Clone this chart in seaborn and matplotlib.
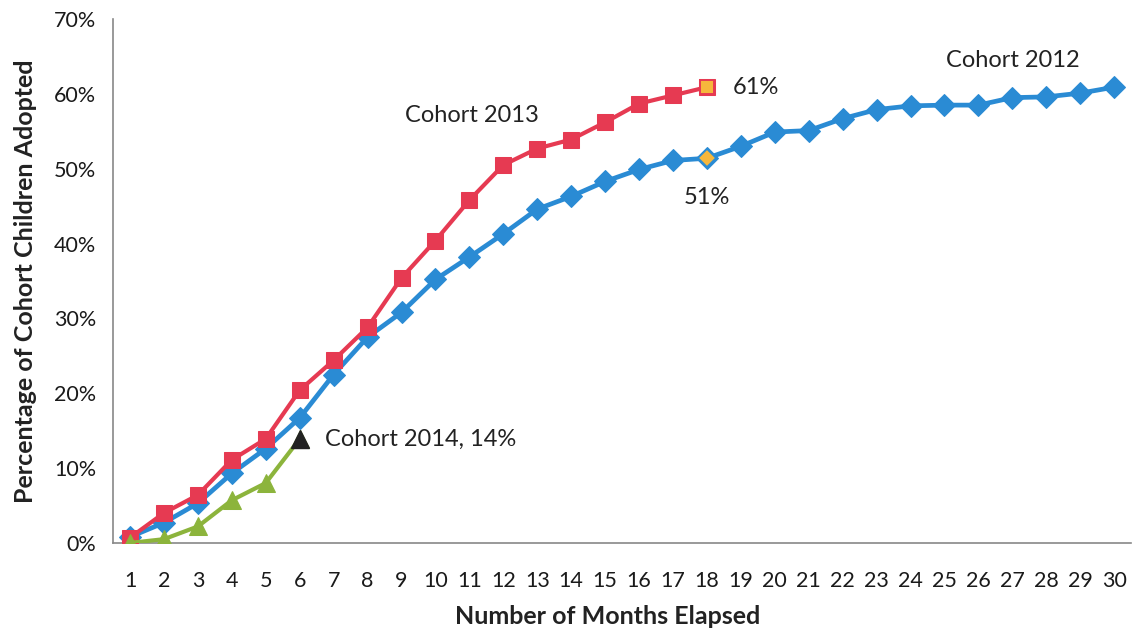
import numpy as np
import pandas as pd
import matplotlib.pyplot as plt
import seaborn as sns
from matplotlib.ticker import FixedLocator, FuncFormatter

# cumulative % adopted by month elapsed
months = list(range(1, 31))
cohort_2012 = [0.8, 2.7, 5.3, 9.3, 12.6, 16.7, 22.5, 27.5, 30.8, 35.2,
               38.2, 41.3, 44.6, 46.3, 48.3, 49.9, 51.1, 51.4, 53.0, 54.9,
               55.1, 56.7, 57.9, 58.4, 58.5, 58.5, 59.5, 59.6, 60.1, 60.9]
cohort_2013 = [0.7, 4.0, 6.4, 11.1, 13.9, 20.4, 24.4, 28.8, 35.4, 40.4,
               45.8, 50.5, 52.7, 53.9, 56.2, 58.7, 59.8, 60.9]
cohort_2014 = [0.0, 0.5, 2.2, 5.7, 8.0, 13.9]

blue = '#2a8bd4'
red = '#e63a52'
green = '#8cb43c'
yellow = '#f6b73c'

sns.set_style('white')
plt.rcParams['font.family'] = ['Lato', 'DejaVu Sans']

fig = plt.figure(figsize=(11.35, 6.35), dpi=100)
ax = fig.add_axes([0.0996, 0.145, 0.897, 0.825])

sns.lineplot(x=months, y=cohort_2012, ax=ax, color=blue, lw=3.4, marker='D',
             markersize=11, markeredgecolor=blue, zorder=3)
sns.lineplot(x=months[:len(cohort_2013)], y=cohort_2013, ax=ax, color=red, lw=3,
             marker='s', markersize=11, markeredgecolor=red, zorder=4)
sns.lineplot(x=months[:len(cohort_2014)], y=cohort_2014, ax=ax, color=green, lw=3,
             marker='^', markersize=13, markeredgecolor=green, zorder=5)

# highlighted end points
ax.plot(18, cohort_2012[17], marker='D', ms=9, mfc=yellow, mec=blue, mew=1.2, zorder=6)
ax.plot(18, cohort_2013[17], marker='s', ms=10, mfc=yellow, mec=red, mew=1.4, zorder=6)
ax.plot(6, cohort_2014[5], marker='^', ms=13, color='#222222', zorder=6)

tfont = dict(fontsize=17, color='#222222')
ax.text(9.1, 57.1, 'Cohort 2013', va='center', ha='left', **tfont)
ax.text(18.75, 60.8, '61%', va='center', ha='left', **tfont)
ax.text(18.0, 46.2, '51%', va='center', ha='center', **tfont)
ax.text(25.05, 64.5, 'Cohort 2012', va='center', ha='left', **tfont)
ax.text(6.75, 13.8, 'Cohort 2014, 14%', va='center', ha='left', **tfont)

ax.set_xlim(0.5, 30.5)
ax.set_ylim(0, 70)
ax.set_xticks(months)
ax.xaxis.set_minor_locator(FixedLocator(np.arange(0.5, 31, 1)))
ax.set_yticks(range(0, 71, 10))
ax.yaxis.set_major_formatter(FuncFormatter(lambda v, p: f'{v:.0f}%'))

ax.tick_params(axis='x', which='major', length=0, pad=20, labelsize=15.5, labelcolor='#1a1a1a')
ax.tick_params(axis='x', which='minor', length=6, width=1, color='#888888', direction='out')
ax.tick_params(axis='y', length=6, width=1, color='#888888', direction='out',
               labelsize=15.5, labelcolor='#1a1a1a', pad=6)

for s in ['top', 'right']:
    ax.spines[s].set_visible(False)
for s in ['left', 'bottom']:
    ax.spines[s].set_color('#888888')
    ax.spines[s].set_linewidth(1.2)

ax.set_xlabel('Number of Months Elapsed', fontsize=18, fontweight='bold', color='#222222')
ax.set_ylabel('Percentage of Cohort Children Adopted', fontsize=18, fontweight='bold', color='#222222', labelpad=12)
ax.xaxis.set_label_coords(0.486, -0.118)

plt.savefig('out.png', dpi=100)
